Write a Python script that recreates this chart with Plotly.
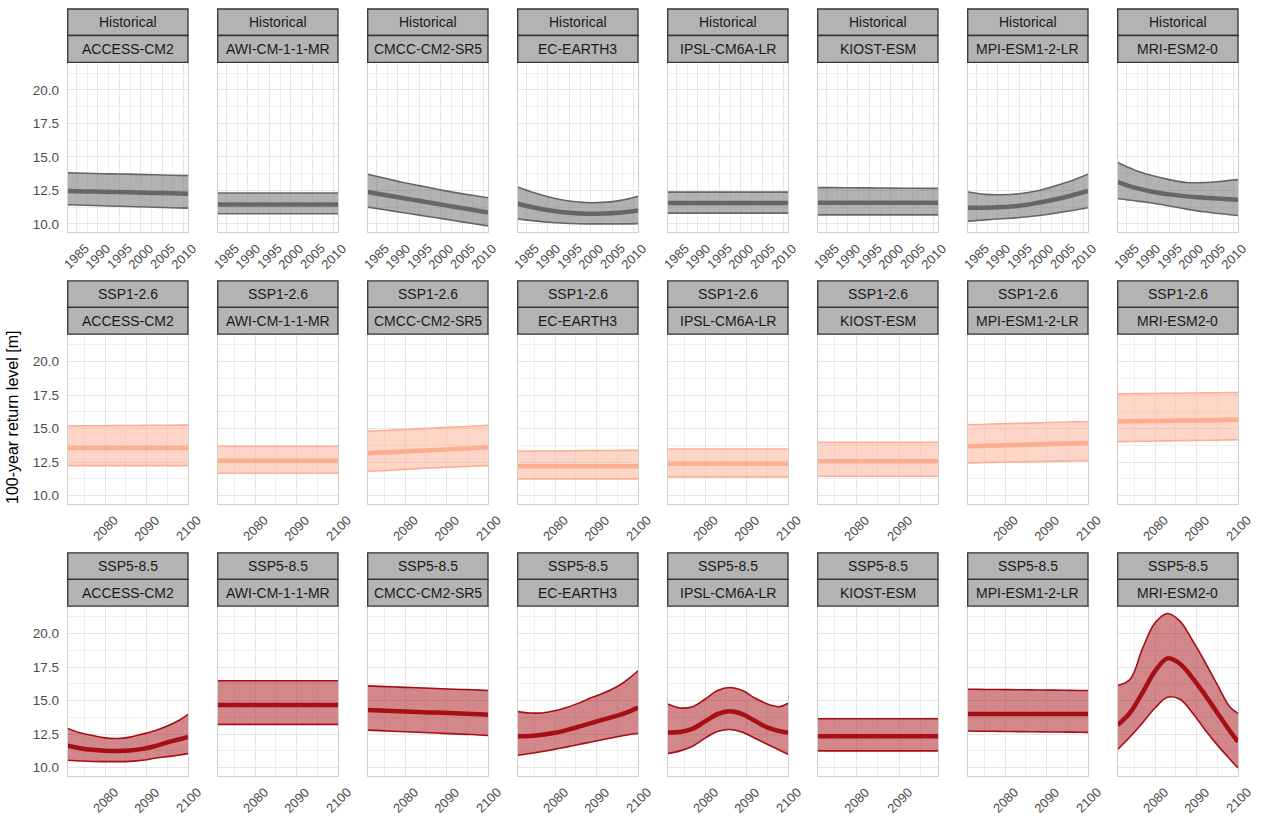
import plotly.graph_objects as go

# Facet labels
SCENARIOS = ["Historical", "SSP1-2.6", "SSP5-8.5"]
MODELS = ["ACCESS-CM2", "AWI-CM-1-1-MR", "CMCC-CM2-SR5", "EC-EARTH3",
          "IPSL-CM6A-LR", "KIOST-ESM", "MPI-ESM1-2-LR", "MRI-ESM2-0"]

# x tick labels
HIST_TICKS = [1985, 1990, 1995, 2000, 2005, 2010]
FUT_TICKS = [2080, 2090, 2100]
FUT_TICKS_KIOST = [2080, 2090]

# Historical period (one list per model, same order as MODELS)
HIST_YEARS = [1983, 1987, 1991, 1995, 1999, 2003, 2007, 2011]
HIST_LOWER = [
    [11.42, 11.39, 11.35, 11.31, 11.28, 11.24, 11.20, 11.17],
    [10.75, 10.75, 10.75, 10.75, 10.75, 10.75, 10.75, 10.75],
    [11.25, 11.05, 10.85, 10.65, 10.45, 10.25, 10.05, 9.85],
    [10.37, 10.22, 10.10, 10.03, 10.00, 10.00, 10.00, 10.02],
    [10.80, 10.80, 10.80, 10.80, 10.80, 10.80, 10.80, 10.80],
    [10.67, 10.67, 10.67, 10.67, 10.67, 10.67, 10.67, 10.67],
    [10.20, 10.30, 10.38, 10.47, 10.60, 10.78, 10.98, 11.20],
    [11.87, 11.72, 11.55, 11.33, 11.10, 10.90, 10.75, 10.62],
]
HIST_MEAN = [
    [12.45, 12.42, 12.40, 12.37, 12.34, 12.31, 12.28, 12.25],
    [11.45, 11.45, 11.45, 11.45, 11.45, 11.45, 11.45, 11.45],
    [12.37, 12.15, 11.93, 11.72, 11.50, 11.28, 11.07, 10.85],
    [11.50, 11.20, 10.97, 10.82, 10.75, 10.77, 10.85, 11.00],
    [11.55, 11.55, 11.55, 11.55, 11.55, 11.55, 11.55, 11.55],
    [11.57, 11.57, 11.57, 11.57, 11.57, 11.57, 11.57, 11.57],
    [11.20, 11.20, 11.25, 11.35, 11.55, 11.80, 12.10, 12.45],
    [13.12, 12.70, 12.40, 12.20, 12.05, 11.95, 11.87, 11.80],
]
HIST_UPPER = [
    [13.80, 13.77, 13.74, 13.72, 13.69, 13.66, 13.63, 13.60],
    [12.30, 12.30, 12.30, 12.30, 12.30, 12.30, 12.30, 12.30],
    [13.70, 13.40, 13.10, 12.85, 12.60, 12.35, 12.15, 11.95],
    [12.75, 12.30, 11.95, 11.70, 11.58, 11.60, 11.75, 12.05],
    [12.37, 12.37, 12.37, 12.37, 12.37, 12.37, 12.37, 12.37],
    [12.70, 12.70, 12.69, 12.68, 12.67, 12.66, 12.66, 12.65],
    [12.37, 12.20, 12.17, 12.25, 12.45, 12.80, 13.20, 13.70],
    [14.57, 14.00, 13.60, 13.30, 13.08, 13.08, 13.17, 13.30],
]

# Future period (KIOST-ESM stops one year earlier)
FUT_YEARS = [2071, 2074, 2077, 2080, 2083, 2086, 2089, 2092, 2095, 2098, 2100]
FUT_YEARS_KIOST = [2071, 2074, 2077, 2080, 2083, 2086, 2089, 2092, 2095, 2098, 2099]

SSP126_LOWER = [
    [12.25, 12.25, 12.25, 12.25, 12.25, 12.25, 12.25, 12.25, 12.25, 12.25, 12.25],
    [11.68, 11.68, 11.68, 11.68, 11.68, 11.68, 11.68, 11.68, 11.68, 11.68, 11.68],
    [11.83, 11.86, 11.92, 11.97, 12.02, 12.07, 12.11, 12.15, 12.19, 12.23, 12.25],
    [11.26, 11.26, 11.26, 11.26, 11.26, 11.26, 11.26, 11.26, 11.26, 11.26, 11.26],
    [11.41, 11.41, 11.41, 11.41, 11.41, 11.41, 11.41, 11.41, 11.41, 11.41, 11.41],
    [11.46, 11.46, 11.46, 11.46, 11.46, 11.46, 11.46, 11.46, 11.46, 11.46, 11.46],
    [12.45, 12.47, 12.49, 12.50, 12.52, 12.54, 12.56, 12.58, 12.59, 12.61, 12.62],
    [14.03, 14.05, 14.06, 14.08, 14.09, 14.11, 14.12, 14.14, 14.15, 14.17, 14.18],
]
SSP126_MEAN = [
    [13.56, 13.56, 13.56, 13.56, 13.56, 13.56, 13.56, 13.56, 13.56, 13.56, 13.56],
    [12.62, 12.62, 12.62, 12.62, 12.62, 12.62, 12.62, 12.62, 12.62, 12.62, 12.62],
    [13.17, 13.22, 13.26, 13.31, 13.35, 13.40, 13.44, 13.49, 13.53, 13.58, 13.61],
    [12.20, 12.20, 12.20, 12.20, 12.20, 12.20, 12.20, 12.20, 12.20, 12.20, 12.20],
    [12.38, 12.38, 12.38, 12.38, 12.38, 12.38, 12.38, 12.38, 12.38, 12.38, 12.38],
    [12.57, 12.57, 12.57, 12.57, 12.57, 12.57, 12.57, 12.57, 12.57, 12.57, 12.57],
    [13.69, 13.72, 13.74, 13.77, 13.79, 13.82, 13.84, 13.87, 13.89, 13.92, 13.94],
    [15.54, 15.55, 15.57, 15.58, 15.59, 15.61, 15.62, 15.63, 15.65, 15.66, 15.67],
]
SSP126_UPPER = [
    [15.20, 15.21, 15.22, 15.22, 15.23, 15.24, 15.25, 15.26, 15.26, 15.27, 15.28],
    [13.69, 13.69, 13.69, 13.69, 13.69, 13.69, 13.69, 13.69, 13.69, 13.69, 13.69],
    [14.80, 14.85, 14.90, 14.94, 14.99, 15.03, 15.08, 15.13, 15.17, 15.22, 15.25],
    [13.32, 13.33, 13.34, 13.34, 13.35, 13.36, 13.37, 13.37, 13.38, 13.39, 13.39],
    [13.49, 13.49, 13.49, 13.49, 13.49, 13.49, 13.49, 13.49, 13.49, 13.49, 13.49],
    [13.99, 13.99, 13.99, 13.99, 13.99, 13.99, 13.99, 13.99, 13.99, 13.99, 13.99],
    [15.30, 15.32, 15.35, 15.37, 15.40, 15.42, 15.45, 15.47, 15.50, 15.52, 15.54],
    [17.60, 17.61, 17.62, 17.63, 17.64, 17.65, 17.66, 17.67, 17.68, 17.69, 17.70],
]

SSP585_LOWER = [
    [10.55, 10.50, 10.46, 10.45, 10.45, 10.47, 10.55, 10.70, 10.82, 10.95, 11.05],
    [13.23, 13.23, 13.23, 13.23, 13.23, 13.23, 13.23, 13.23, 13.23, 13.23, 13.23],
    [12.80, 12.76, 12.72, 12.68, 12.64, 12.60, 12.56, 12.52, 12.48, 12.44, 12.40],
    [10.93, 11.05, 11.20, 11.38, 11.55, 11.75, 11.93, 12.12, 12.30, 12.47, 12.55],
    [11.05, 11.25, 11.60, 12.20, 12.70, 12.85, 12.65, 12.20, 11.75, 11.30, 11.00],
    [11.25, 11.25, 11.25, 11.25, 11.25, 11.25, 11.25, 11.25, 11.25, 11.25, 11.25],
    [12.73, 12.72, 12.71, 12.70, 12.69, 12.68, 12.67, 12.66, 12.65, 12.64, 12.63],
    [11.35, 12.30, 13.35, 14.45, 15.25, 15.10, 14.10, 12.85, 11.70, 10.65, 9.98],
]
SSP585_MEAN = [
    [11.63, 11.45, 11.33, 11.27, 11.25, 11.28, 11.40, 11.60, 11.88, 12.12, 12.30],
    [14.68, 14.68, 14.68, 14.68, 14.68, 14.68, 14.68, 14.68, 14.68, 14.68, 14.68],
    [14.30, 14.26, 14.23, 14.19, 14.16, 14.12, 14.09, 14.05, 14.02, 13.98, 13.95],
    [12.35, 12.36, 12.45, 12.60, 12.82, 13.08, 13.35, 13.62, 13.88, 14.20, 14.48],
    [12.63, 12.66, 12.90, 13.45, 14.00, 14.20, 14.00, 13.50, 13.00, 12.72, 12.60],
    [12.35, 12.35, 12.35, 12.35, 12.35, 12.35, 12.35, 12.35, 12.35, 12.35, 12.35],
    [14.00, 14.00, 14.00, 14.00, 14.00, 14.00, 14.00, 14.00, 14.00, 14.00, 14.00],
    [13.18, 14.10, 15.60, 17.20, 18.15, 17.75, 16.70, 15.45, 14.10, 12.75, 11.93],
]
SSP585_UPPER = [
    [12.93, 12.60, 12.40, 12.22, 12.18, 12.28, 12.50, 12.75, 13.10, 13.55, 13.98],
    [16.48, 16.48, 16.48, 16.48, 16.48, 16.48, 16.48, 16.48, 16.48, 16.48, 16.48],
    [16.10, 16.06, 16.03, 15.99, 15.96, 15.92, 15.89, 15.85, 15.82, 15.78, 15.75],
    [14.18, 14.08, 14.08, 14.25, 14.50, 14.85, 15.25, 15.60, 16.05, 16.70, 17.23],
    [14.75, 14.45, 14.55, 15.10, 15.75, 15.98, 15.75, 15.20, 14.75, 14.55, 14.80],
    [13.65, 13.65, 13.65, 13.65, 13.65, 13.65, 13.65, 13.65, 13.65, 13.65, 13.65],
    [15.85, 15.84, 15.83, 15.82, 15.81, 15.80, 15.79, 15.78, 15.77, 15.76, 15.75],
    [16.13, 16.60, 18.90, 20.80, 21.50, 20.93, 19.50, 17.90, 16.20, 14.55, 14.05],
]

COLORS = {"Historical": "#666666", "SSP1-2.6": "#FCAE91", "SSP5-8.5": "#A50F15"}
FILLS = {"Historical": "rgba(102,102,102,0.5)",
         "SSP1-2.6": "rgba(252,174,145,0.5)",
         "SSP5-8.5": "rgba(165,15,21,0.5)"}

W, H = 1263, 821
FONT = "Liberation Sans, Arial, sans-serif"
TICK_FONT = dict(size=13, color="#4D4D4D", family=FONT)


def px_x(x):
    ''' page pixel -> paper x '''
    return x / W


def px_y(y):
    ''' page pixel -> paper y '''
    return 1 - y / H


def axis_names(n):
    suffix = "" if n == 1 else str(n)
    return f"xaxis{suffix}", f"yaxis{suffix}", f"x{suffix}", f"y{suffix}"


def panel_series(row, col):
    if row == 0:
        return HIST_YEARS, HIST_LOWER[col], HIST_MEAN[col], HIST_UPPER[col]
    years = FUT_YEARS_KIOST if MODELS[col] == "KIOST-ESM" else FUT_YEARS
    if row == 1:
        return years, SSP126_LOWER[col], SSP126_MEAN[col], SSP126_UPPER[col]
    return years, SSP585_LOWER[col], SSP585_MEAN[col], SSP585_UPPER[col]


fig = go.Figure()
layout = {}
shapes = []
annotations = []

for row, scen in enumerate(SCENARIOS):
    top = 62.3 + 271.9 * row
    bottom = top + 170.0
    for col, model in enumerate(MODELS):
        n = row * 8 + col + 1
        xkey, ykey, xref, yref = axis_names(n)
        left = 67.7 + 150.0 * col
        right = left + 120.3

        years, lower, mean, upper = panel_series(row, col)
        color = COLORS[scen]

        fig.add_trace(go.Scatter(x=years, y=lower, mode="lines", xaxis=xref, yaxis=yref,
                                 line=dict(color=color, width=1.6, shape="spline"),
                                 hoverinfo="skip"))
        fig.add_trace(go.Scatter(x=years, y=upper, mode="lines", xaxis=xref, yaxis=yref,
                                 line=dict(color=color, width=1.6, shape="spline"),
                                 fill="tonexty", fillcolor=FILLS[scen], hoverinfo="skip"))
        fig.add_trace(go.Scatter(x=years, y=mean, mode="lines", xaxis=xref, yaxis=yref,
                                 line=dict(color=color, width=4.5, shape="spline"),
                                 name=f"{scen} {model}"))

        if row == 0:
            xr, t0, dt, mt0, mdt = [1983, 2011], 1985, 5, 1982.5, 2.5
            ticks = HIST_TICKS
        else:
            xr = [2071, years[-1]]
            t0, dt, mt0, mdt = 2080, 10, 2075, 5
            ticks = FUT_TICKS_KIOST if model == "KIOST-ESM" else FUT_TICKS

        layout[xkey] = dict(
            domain=[px_x(left), px_x(right)], anchor=yref, range=xr, automargin=False,
            tick0=t0, dtick=dt, ticks="", showticklabels=False,
            showgrid=True, gridcolor="#E6E6E6", gridwidth=1.1, zeroline=False,
            minor=dict(tick0=mt0, dtick=mdt, showgrid=True, gridcolor="#EFEFEF", gridwidth=0.7),
            showline=True, mirror=True, linecolor="#CFCFCF", linewidth=1,
        )
        layout[ykey] = dict(
            domain=[px_y(bottom), px_y(top)], anchor=xref, range=[9.37, 22.05], automargin=False,
            tick0=10, dtick=2.5, tickformat=".1f", ticks="",
            showticklabels=(col == 0),
            tickfont=dict(size=13.5, color="#4D4D4D", family=FONT),
            showgrid=True, gridcolor="#E6E6E6", gridwidth=1.1, zeroline=False,
            minor=dict(tick0=10, dtick=1.25, showgrid=True, gridcolor="#EFEFEF", gridwidth=0.7),
            showline=True, mirror=True, linecolor="#CFCFCF", linewidth=1,
            ticklabelstandoff=5,
        )

        # rotated x tick labels, centred under each tick like ggplot's angle=45
        for t in ticks:
            annotations.append(dict(text=str(t), xref=xref, x=t, yref="paper",
                                    y=px_y(bottom + 24), xanchor="center", yanchor="middle",
                                    textangle=-45, showarrow=False, font=TICK_FONT))

        # two stacked facet strips
        s_top = top - 53.3
        s_mid = top - 26.8
        for (y0, y1, label) in [(s_top, s_mid, scen), (s_mid, top, model)]:
            shapes.append(dict(type="rect", xref="paper", yref="paper",
                               x0=px_x(left), x1=px_x(right), y0=px_y(y1), y1=px_y(y0),
                               fillcolor="#B3B3B3", line=dict(color="#333333", width=1.3),
                               layer="above"))
            annotations.append(dict(text=label, xref="paper", yref="paper",
                                    x=px_x((left + right) / 2), y=px_y((y0 + y1) / 2),
                                    xanchor="center", yanchor="middle", showarrow=False,
                                    font=dict(size=14, color="#1A1A1A", family=FONT)))

annotations.append(dict(text="100-year return level [m]", xref="paper", yref="paper",
                        x=px_x(12), y=px_y(418), textangle=-90, showarrow=False,
                        xanchor="center", yanchor="middle",
                        font=dict(size=16, color="#000000", family=FONT)))

fig.update_layout(
    width=W, height=H,
    margin=dict(l=0, r=0, t=0, b=0),
    paper_bgcolor="white", plot_bgcolor="white",
    showlegend=False,
    shapes=shapes, annotations=annotations,
    font=dict(family=FONT),
    **layout,
)

# drop the browser's default body margin so the figure fills the window
fig.write_html("out.html", config={"displayModeBar": False},
               post_script="document.body.style.margin = '0px';")
